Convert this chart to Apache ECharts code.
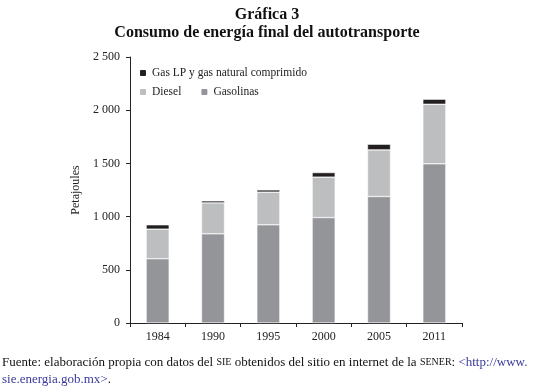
<!DOCTYPE html>
<html>
<head>
<meta charset="utf-8">
<script src="https://cdn.jsdelivr.net/npm/echarts@6/dist/echarts.min.js"></script>
<style>
  html, body { margin: 0; padding: 0; background: #fff; }
  #chart { width: 534px; height: 391px; }
</style>
</head>
<body>
<div id="chart"></div>
<script>
// Consumo de energía final del autotransporte (petajoules)
const years = ['1984', '1990', '1995', '2000', '2005', '2011'];
const gasolinas = [604, 838, 923, 991, 1189, 1496];
const diesel = [278, 291, 307, 380, 438, 560];
const gasLP = [41, 19, 21, 43, 53, 47];
const yTicks = [0, 500, 1000, 1500, 2000, 2500];

const serif = '"Liberation Serif", "DejaVu Serif", serif';
const chart = echarts.init(document.getElementById('chart'));

const fmt = v => {
    const s = String(v);
    return s.length > 3 ? s.slice(0, s.length - 3) + ' ' + s.slice(-3) : s;
};

const option = {
    animation: false,
    title: [
        {
            text: 'Gráfica 3',
            left: 'center',
            top: 2,
            textStyle: { fontFamily: serif, fontSize: 16, fontWeight: 'bold', color: '#111' }
        },
        {
            text: 'Consumo de energía final del autotransporte',
            left: 'center',
            top: 20,
            textStyle: { fontFamily: serif, fontSize: 16, fontWeight: 'bold', color: '#111' }
        }
    ],
    legend: [
        {
            data: ['Gas LP y gas natural comprimido'],
            left: 133,
            top: 62,
            itemWidth: 8,
            itemHeight: 8,
            itemGap: 4,
            textStyle: { fontFamily: serif, fontSize: 11.5, color: '#222' }
        },
        {
            data: ['Diesel', 'Gasolinas'],
            left: 133,
            top: 81,
            itemWidth: 8,
            itemHeight: 8,
            itemGap: 18,
            textStyle: { fontFamily: serif, fontSize: 11.5, color: '#222' }
        }
    ],
    grid: {
        left: 130,
        right: 72,
        top: 57,
        bottom: 68,
        containLabel: false
    },
    xAxis: {
        type: 'category',
        data: years,
        axisLine: { lineStyle: { color: '#222', width: 1 } },
        axisTick: { show: true, length: 4, lineStyle: { color: '#222' } },
        axisLabel: { fontFamily: serif, fontSize: 12, color: '#222', margin: 8 }
    },
    yAxis: {
        type: 'value',
        min: yTicks[0],
        max: yTicks[yTicks.length - 1],
        interval: 500,
        name: 'Petajoules',
        nameLocation: 'middle',
        nameGap: 42,
        nameTextStyle: { fontFamily: serif, fontSize: 12, color: '#222' },
        axisLine: { show: true, lineStyle: { color: '#222', width: 1 } },
        axisTick: { show: true, length: 4, lineStyle: { color: '#222' } },
        splitLine: { show: false },
        axisLabel: { fontFamily: serif, fontSize: 12, color: '#222', margin: 10, formatter: fmt }
    },
    series: [
        {
            type: 'bar',
            name: 'Gasolinas',
            stack: 'total',
            data: gasolinas,
            barWidth: 23,
            itemStyle: { color: '#939598', borderColor: '#fff', borderWidth: 0.5 }
        },
        {
            type: 'bar',
            name: 'Diesel',
            stack: 'total',
            data: diesel,
            barWidth: 23,
            itemStyle: { color: '#bcbec0', borderColor: '#fff', borderWidth: 0.5 }
        },
        {
            type: 'bar',
            name: 'Gas LP y gas natural comprimido',
            stack: 'total',
            data: gasLP,
            barWidth: 23,
            itemStyle: { color: '#231f20', borderColor: '#fff', borderWidth: 0.5 }
        }
    ],
    graphic: [
        {
            type: 'text',
            left: 2,
            top: 356,
            style: {
                text: 'Fuente: elaboración propia con datos del {sc|SIE} obtenidos del sitio en internet de la {sc|SENER}: {lk|<http://www.}',
                fontFamily: serif,
                fontSize: 13,
                fill: '#111',
                rich: {
                    sc: { fontFamily: serif, fontSize: 10, fill: '#111' },
                    lk: { fontFamily: serif, fontSize: 13, fill: '#3a3a9a' }
                }
            }
        },
        {
            type: 'text',
            left: 2,
            top: 373,
            style: {
                text: '{lk|sie.energia.gob.mx>}.',
                fontFamily: serif,
                fontSize: 13,
                fill: '#111',
                rich: {
                    lk: { fontFamily: serif, fontSize: 13, fill: '#3a3a9a' }
                }
            }
        }
    ]
};

chart.setOption(option);
</script>
</body>
</html>
